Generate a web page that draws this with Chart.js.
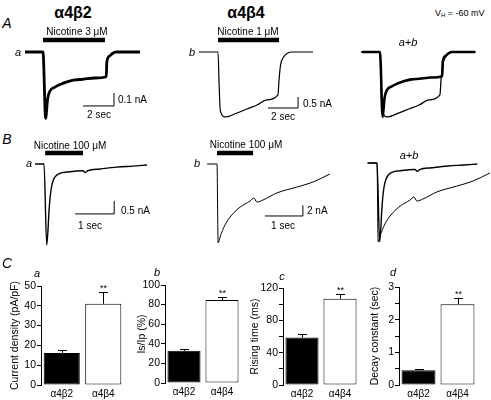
<!DOCTYPE html>
<html>
<head>
<meta charset="utf-8">
<script src="https://cdn.jsdelivr.net/npm/chart.js@4.4.1/dist/chart.umd.min.js"></script>
<style>
  body { margin: 0; background: #fff; }
  #fig { position: relative; width: 491px; height: 400px; overflow: hidden; font-family: "Liberation Sans", Arial, sans-serif; color: #000; }
  #fig canvas { position: absolute; }
  .lbl { position: absolute; white-space: nowrap; font-size: 10px; line-height: 1; transform: translate(-50%, -50%); }
  .left { transform: translate(0, -50%); }
  .it { font-style: italic; }
  .bold { font-weight: bold; }
  sub { font-size: 6px; vertical-align: -1px; }
</style>
</head>
<body>
<div id="fig"></div>
<script>
// A: nicotine pulse responses (time in sec, current in nA)
const tAa = [-1.16, 0, 0.17, 0.3, 0.45, 0.77, 1.1, 1.55, 2.06, 2.58, 3.35, 4.08, 4.12, 4.3, 4.5, 4.7, 6.26];
const iAa = [0, 0, -0.51, -0.36, -0.3, -0.27, -0.25, -0.23, -0.215, -0.21, -0.2, -0.19, -0.075, -0.03, -0.01, 0, 0];
const tAb = [-1.25, 0, 0.07, 0.13, 0.22, 0.35, 0.5, 1.25, 1.9, 2.56, 3.2, 3.93, 4.0, 4.1, 4.3, 4.55, 4.85, 6.23];
const iAb = [0, 0, -1.4, -2.49, -2.8, -2.93, -2.95, -2.77, -2.59, -2.41, -2.18, -1.95, -1.3, -0.6, -0.23, -0.06, 0, 0];

// B: 100 uM nicotine
const tBa = [-0.23, 0, 0.07, 0.136, 0.18, 0.24, 0.41, 0.59, 1.0, 1.06, 1.12, 1.44, 1.87, 2.28, 2.64];
const iBa = [0, 0, -3.12, -1.64, -1.0, -0.62, -0.36, -0.31, -0.26, -0.33, -0.26, -0.19, -0.12, -0.08, -0.04];
const tBb = [-0.26, 0, 0.03, 0.08, 0.21, 0.39, 0.61, 0.87, 0.97, 1.05, 1.21, 1.58, 2.1, 2.53, 2.97];
const iBb = [0, 0, -15.0, -13.9, -11.6, -9.7, -8.2, -7.05, -6.48, -7.24, -6.86, -5.5, -4.4, -3.43, -1.9];

// drug application bars [start, end, level] and scale bars [t0, t1, i0, i1]
const nicAa = [0, 4, 0.092], nicAb = [0, 4, 0.545];
const nicBa = [0.03, 1.0, 0.42], nicBb = [0, 0.95, 2.1];
const barAa = [2.58, 4.58, -0.415, -0.315], barAb = [3.28, 5.25, -2.545, -2.045];
const barBa = [0.8, 1.8, -1.92, -1.42], barBb = [1.26, 2.26, -9.9, -7.9];

// C: summary bars
const groups = ['α4β2', 'α4β4'];
const density = [16.2, 41], densityErr = [1.3, 6.2];
const ratio = [32.8, 84.7], ratioErr = [1.4, 3.3];
const rise = [58.7, 106.7], riseErr = [4.2, 5.8];
const decay = [0.45, 2.47], decayErr = [0.05, 0.19];
const signif = ['', '**'];

const fig = document.getElementById('fig');
const FONT = '"Liberation Sans", Arial, sans-serif';

function addCanvas(b) {
  const c = document.createElement('canvas');
  c.width = b.w; c.height = b.h;
  c.style.left = b.left + 'px'; c.style.top = b.top + 'px';
  fig.appendChild(c);
  return c;
}

function addLabel(html, x, y, cls = '', size = 10) {
  const d = document.createElement('div');
  d.className = 'lbl ' + cls;
  d.innerHTML = html;
  d.style.left = x + 'px'; d.style.top = y + 'px';
  d.style.fontSize = size + 'px';
  fig.appendChild(d);
}

const pts = (t, v, k = 1) => t.map((x, i) => ({ x, y: v[i] * k }));
const trace = (t, v, w, k = 1) => ({ data: pts(t, v, k), borderWidth: w, cubicInterpolationMode: 'monotone' });
const drugBar = (n) => ({ data: [{ x: n[0], y: n[2] }, { x: n[1], y: n[2] }], borderWidth: 4.5, borderCapStyle: 'butt' });
const scaleBar = (s) => ({ data: [{ x: s[0], y: s[2] }, { x: s[1], y: s[2] }, { x: s[1], y: s[3] }], borderWidth: 1, borderCapStyle: 'butt' });

// frame: [origin x px, origin y px, px per sec, px per nA]
function traceChart(box, frame, datasets) {
  const [ox, oy, kx, ky] = frame;
  new Chart(addCanvas(box), {
    type: 'line',
    data: { datasets },
    options: {
      responsive: false, animation: false, devicePixelRatio: 1,
      layout: { padding: 0 },
      plugins: { legend: { display: false }, tooltip: { enabled: false } },
      elements: { point: { radius: 0 }, line: { borderColor: '#000', fill: false, tension: 0 } },
      scales: {
        x: { type: 'linear', display: false, min: (box.left - ox) / kx, max: (box.left + box.w - ox) / kx },
        y: { type: 'linear', display: false, min: (oy - box.top - box.h) / ky, max: (oy - box.top) / ky }
      }
    }
  });
}

const kA = iAb[6] / iAa[2];
const kB = iBb[2] / iBa[2];

traceChart({ left: 15, top: 25, w: 150, h: 105 }, [43, 52, 15.5, 130],
  [trace(tAa, iAa, 2.8), drugBar(nicAa), scaleBar(barAa)]);
traceChart({ left: 185, top: 25, w: 145, h: 105 }, [218, 52, 15.25, 22],
  [trace(tAb, iAb, 1.2), drugBar(nicAb), scaleBar(barAb)]);
traceChart({ left: 350, top: 25, w: 141, h: 105 }, [380, 52, 15.25, 22],
  [trace(tAa, iAa, 2.6, kA), trace(tAb, iAb, 1.3)]);

traceChart({ left: 25, top: 140, w: 140, h: 115 }, [44, 164, 39, 26],
  [trace(tBa, iBa, 1.4), drugBar(nicBa), scaleBar(barBa)]);
traceChart({ left: 195, top: 140, w: 145, h: 115 }, [217, 164, 38, 5.25],
  [trace(tBb, iBb, 1), drugBar(nicBb), scaleBar(barBb)]);
traceChart({ left: 355, top: 140, w: 136, h: 115 }, [377, 163, 38, 5.25],
  [trace(tBa, iBa, 1.4, kB), trace(tBb, iBb, 1)]);

// error bars and significance marks
const errorBars = {
  id: 'errorBars',
  afterDatasetsDraw(chart) {
    const ds = chart.data.datasets[0];
    const meta = chart.getDatasetMeta(0);
    const y = chart.scales.y;
    const ctx = chart.ctx;
    ctx.save();
    ctx.strokeStyle = '#000'; ctx.fillStyle = '#000'; ctx.lineWidth = 1;
    meta.data.forEach((bar, i) => {
      const x = Math.round(bar.x) + 0.5;
      const top = y.getPixelForValue(ds.data[i]);
      const hi = Math.round(y.getPixelForValue(ds.data[i] + ds.err[i])) + 0.5;
      ctx.beginPath();
      ctx.moveTo(x, top); ctx.lineTo(x, hi);
      ctx.moveTo(x - 4.5, hi); ctx.lineTo(x + 4.5, hi);
      ctx.stroke();
      if (signif[i]) {
        ctx.font = '9px ' + FONT;
        ctx.textAlign = 'center';
        ctx.fillText(signif[i], x, hi - 2);
      }
    });
    ctx.restore();
  }
};

function barChart(box, geo, vals, errs, title, yMax, step, labelEvery) {
  new Chart(addCanvas(box), {
    type: 'bar',
    data: {
      labels: groups,
      datasets: [{
        data: vals, err: errs,
        backgroundColor: ['#000', '#fff'], borderColor: '#000', borderWidth: 1, borderSkipped: false,
        barPercentage: 0.87, categoryPercentage: 1
      }]
    },
    options: {
      responsive: false, animation: false, devicePixelRatio: 1,
      layout: { padding: { left: geo.padL, top: geo.padT, right: geo.padR, bottom: 0 } },
      plugins: { legend: { display: false }, tooltip: { enabled: false } },
      scales: {
        x: {
          grid: { display: false, drawTicks: false }, border: { display: false },
          ticks: { color: '#000', font: { family: FONT, size: 10 }, padding: 3 },
          afterFit(s) { s.height = 15; }
        },
        y: {
          min: 0, max: yMax,
          grid: { drawOnChartArea: false, tickLength: 4, tickColor: '#000' },
          border: { color: '#000' },
          ticks: {
            stepSize: step, color: '#000', font: { family: FONT, size: 10.5 }, padding: 1,
            callback: (v) => (Math.abs(v / labelEvery - Math.round(v / labelEvery)) < 1e-6 ? v : '')
          },
          title: { display: true, text: title, color: '#000', font: { family: FONT, size: 10.5 }, padding: 0 },
          afterFit(s) { s.width = geo.yW; }
        }
      }
    },
    plugins: [errorBars]
  });
}

barChart({ left: 0, top: 262, w: 126, h: 138 }, { padL: 9, yW: 32, padT: 24, padR: 2 },
  density, densityErr, 'Current density (pA/pF)', 50, 10, 10);
barChart({ left: 126, top: 262, w: 117, h: 136 }, { padL: 10, yW: 29, padT: 23, padR: 2 },
  ratio, ratioErr, 'Is/Ip (%)', 100, 10, 20);
barChart({ left: 243, top: 262, w: 118, h: 138 }, { padL: 6, yW: 34, padT: 26, padR: 2 },
  rise, riseErr, 'Rising time (ms)', 120, 20, 40);
barChart({ left: 361, top: 262, w: 130, h: 138 }, { padL: 8, yW: 30, padT: 25, padR: 14 },
  decay, decayErr, 'Decay constant (sec)', 3, 0.5, 1);

// text
addLabel('α4β2', 73, 13, 'bold', 16);
addLabel('α4β4', 246, 13, 'bold', 16);
addLabel('V<sub>H</sub> = -60 mV', 435, 13, 'left', 9);
addLabel('A', 7, 23, 'it', 14);
addLabel('B', 7, 139, 'it', 14);
addLabel('C', 7, 263, 'it', 14);

addLabel('Nicotine 3 μM', 77, 32);
addLabel('Nicotine 1 μM', 248, 32);
addLabel('Nicotine 100 μM', 70, 146);
addLabel('Nicotine 100 μM', 246, 145);

addLabel('a', 18, 52, 'it', 11);
addLabel('b', 192, 52, 'it', 11);
addLabel('a+b', 408, 42, 'it', 11);
addLabel('a', 29, 163, 'it', 11);
addLabel('b', 197, 163, 'it', 11);
addLabel('a+b', 409, 155, 'it', 11);

addLabel('0.1 nA', 118, 100, 'left');
addLabel('2 sec', 99, 115);
addLabel('0.5 nA', 303, 104, 'left');
addLabel('2 sec', 283, 117);
addLabel('0.5 nA', 121, 211, 'left');
addLabel('1 sec', 90, 226);
addLabel('2 nA', 307, 211, 'left');
addLabel('1 sec', 283, 226);

addLabel('a', 37, 273, 'it', 11);
addLabel('b', 157, 272, 'it', 11);
addLabel('c', 282, 276, 'it', 11);
addLabel('d', 393, 272, 'it', 11);
</script>
</body>
</html>
